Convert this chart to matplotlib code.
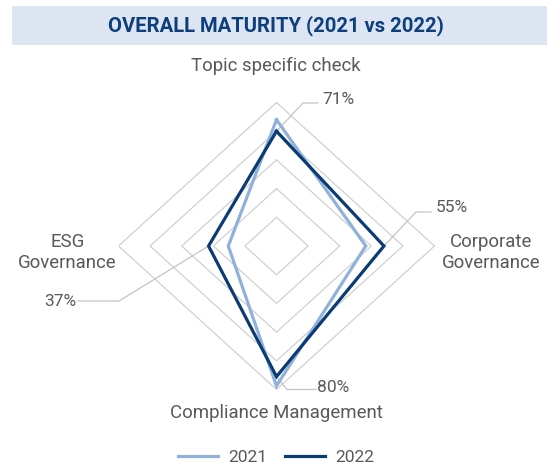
import numpy as np
import matplotlib
matplotlib.use("Agg")
import matplotlib.pyplot as plt
from matplotlib.patches import Rectangle

# data (percent of outer ring)
categories = ["Topic specific check", "Corporate\nGovernance", "Compliance Management", "ESG\nGovernance"]
values_2021 = [88, 56.5, 97.5, 30.5]
values_2022 = [80, 68, 91, 43]
labels_2022 = ["71%", "55%", "80%", "37%"]
ring_levels = [20, 40, 60, 80, 100]

light = "#8fb1da"
dark = "#0b3b74"
grey_txt = "#595959"
grid_col = "#d0d0d0"

W, H = 547, 465
fig = plt.figure(figsize=(W / 100, H / 100), dpi=100)
plt.rcParams['font.family'] = ['Roboto', 'DejaVu Sans']


def fp(x, y):
    # pixel position (from top-left) -> figure fraction
    return x / W, 1 - y / H


# radar area: centre and radii in pixels
cx, cy, rx, ry = 276.5, 246, 158, 143.5
ax = fig.add_axes([(cx - rx) / W, (H - cy - ry) / H, 2 * rx / W, 2 * ry / H])
ax.set_xlim(-100, 100)
ax.set_ylim(-100, 100)
ax.axis("off")

angles = np.array([0, 90, 180, 270]) * np.pi / 180


def to_xy(vals):
    v = np.asarray(vals, dtype=float)
    x = v * np.sin(angles)
    y = v * np.cos(angles)
    return np.append(x, x[0]), np.append(y, y[0])


for lev in ring_levels:
    gx, gy = to_xy([lev] * 4)
    ax.plot(gx, gy, color=grid_col, lw=0.9, zorder=1)

x1, y1 = to_xy(values_2021)
x2, y2 = to_xy(values_2022)
l1, = ax.plot(x1, y1, color=light, lw=2.3, zorder=3, solid_joinstyle="miter")
l2, = ax.plot(x2, y2, color=dark, lw=2.3, zorder=4, solid_joinstyle="miter")

# data labels with leader lines (2022 values)
label_pos = [(338, 99), (452, 207), (333, 388), (60, 301)]
elbow = [(303, 103), (416, 212), (287, 389.5), (119, 301)]
end = [(318, 103), (431, 212), (316, 389.5), (78, 301)]


def px2data(x, y):
    return (x - cx) / rx * 100, (cy - y) / ry * 100


for i, lab in enumerate(labels_2022):
    vx, vy = x2[i], y2[i]
    ex, ey = px2data(*elbow[i])
    tx, ty = px2data(*end[i])
    ax.plot([vx, ex, tx], [vy, ey, ty], color="#c4c4c4", lw=0.9, zorder=2, clip_on=False)
    fig.text(*fp(*label_pos[i]), lab, ha="center", va="center", fontsize=12.5, color=grey_txt)

# category labels
cat_pos = [(276, 66), (491, 252.5), (276, 413), (67.5, 252.5)]
for c, p in zip(categories, cat_pos):
    fig.text(*fp(*p), c, ha="center", va="center", fontsize=13.4, color=grey_txt, linespacing=1.2)

# title band
fig.patches.append(Rectangle(fp(12, 45), (W - 12) / W, 39 / H, transform=fig.transFigure,
                             facecolor="#dde5f3", edgecolor="none", zorder=0))
fig.text(*fp(276, 26), "OVERALL MATURITY (2021 vs 2022)", ha="center", va="center",
         fontsize=14.6, fontweight="bold", color="#0c3f7c")

# legend
leg = fig.legend([l1, l2], ["2021", "2022"], loc="center", bbox_to_anchor=fp(276, 457),
                 ncol=2, frameon=False, fontsize=12.5, handlelength=2.3,
                 columnspacing=1.0, handletextpad=0.6, borderpad=0)
for t in leg.get_texts():
    t.set_color(grey_txt)

fig.savefig("out.png", dpi=100)
